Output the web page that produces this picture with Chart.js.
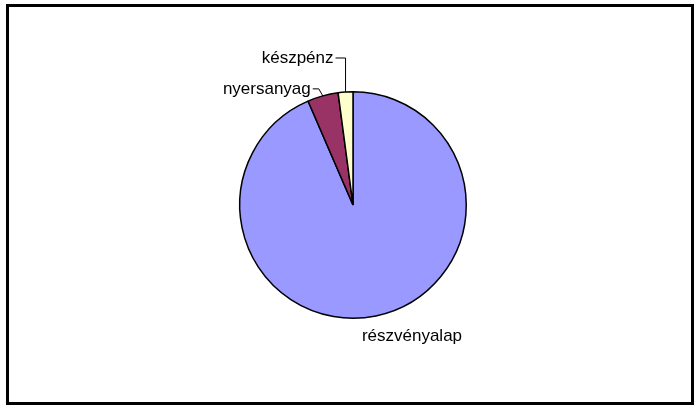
<!DOCTYPE html>
<html>
<head>
<meta charset="utf-8">
<script src="https://cdn.jsdelivr.net/npm/chart.js@4"></script>
<style>
  html, body { margin: 0; padding: 0; background: #fff; }
  #wrap { position: relative; width: 694px; height: 406px; overflow: hidden; }
  #frame {
    position: absolute; left: 6px; top: 4px; width: 682px; height: 395px;
    border: 3px solid #000; box-sizing: content-box; pointer-events: none;
  }
  canvas { position: absolute; left: 0; top: 0; }
</style>
</head>
<body>
<div id="wrap">
  <canvas id="chart" width="694" height="406"></canvas>
  <div id="frame"></div>
</div>
<script>
const categories = ["részvényalap", "nyersanyag", "készpénz"];
const values = [93.5, 4.4, 2.1];
const sliceColors = ["#9999FF", "#993366", "#FFFFCC"];

// label placement: offset from the slice's rim point, and leader line or not
const labelSpots = [
  { dx: 36, dy: 20, leader: false },
  { dx: -10, dy: -7, leader: true },
  { dx: -10, dy: -34, leader: true }
];

const pieLabels = {
  id: "pieLabels",
  afterDatasetsDraw(chart) {
    const ctx = chart.ctx;
    const arcs = chart.getDatasetMeta(0).data;
    ctx.save();
    ctx.font = "17px 'Liberation Sans', Arial, sans-serif";
    ctx.fillStyle = "#000";
    ctx.strokeStyle = "#000";
    ctx.lineWidth = 1;
    arcs.forEach((arc, i) => {
      const mid = (arc.startAngle + arc.endAngle) / 2;
      const rx = arc.x + Math.cos(mid) * arc.outerRadius;
      const ry = arc.y + Math.sin(mid) * arc.outerRadius;
      const spot = labelSpots[i];
      if (spot.leader) {
        const kx = i === 2 ? rx : rx - 4;
        const ky = ry + spot.dy;
        ctx.beginPath();
        ctx.moveTo(rx, ry);
        ctx.lineTo(kx, ky);
        ctx.lineTo(rx + spot.dx, ky);
        ctx.stroke();
        ctx.textAlign = "right";
        ctx.textBaseline = "middle";
        ctx.fillText(categories[i], rx + spot.dx - 2, ky);
      } else {
        ctx.textAlign = "center";
        ctx.textBaseline = "middle";
        ctx.fillText(categories[i], rx + spot.dx, ry + spot.dy);
      }
    });
    ctx.restore();
  }
};

new Chart(document.getElementById("chart"), {
  type: "pie",
  data: {
    labels: categories,
    datasets: [{
      data: values,
      backgroundColor: sliceColors,
      borderColor: "#000",
      borderWidth: 1.5,
      borderAlign: "center"
    }]
  },
  options: {
    responsive: false,
    animation: false,
    events: [],
    layout: { padding: { top: 91, bottom: 87, left: 239, right: 227 } },
    plugins: {
      legend: { display: false },
      tooltip: { enabled: false }
    }
  },
  plugins: [pieLabels]
});
</script>
</body>
</html>
